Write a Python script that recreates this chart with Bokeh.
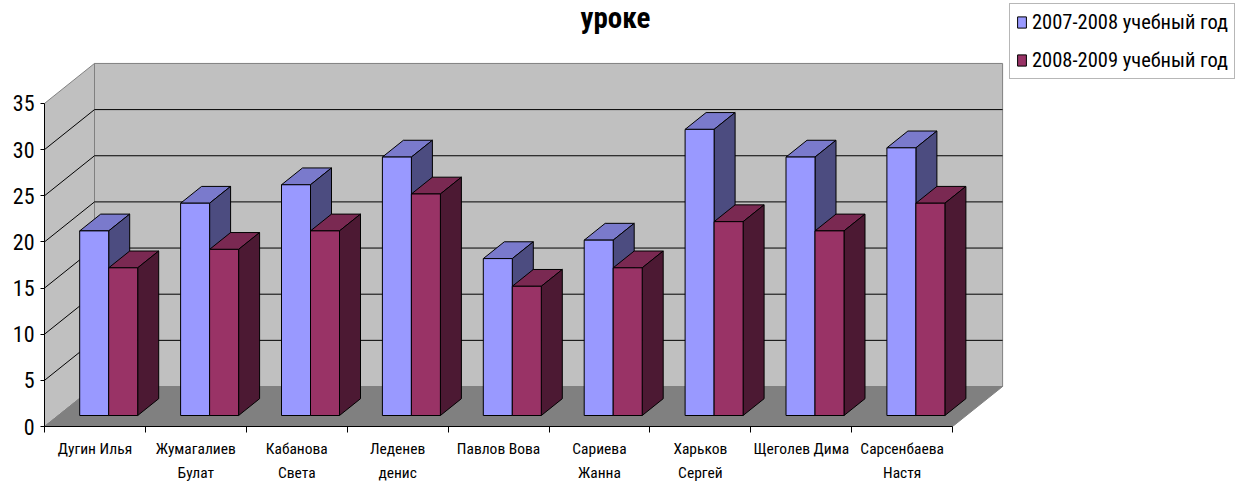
from bokeh.embed import file_html
from bokeh.models import (FixedTicker, Label, Legend, LegendItem,
                          LinearAxis, Range1d)
from bokeh.plotting import figure
from bokeh.resources import INLINE

FONT = "Roboto Condensed"

title_text = "уроке"
names_first = ["Дугин Илья", "Жумагалиев", "Кабанова", "Леденев", "Павлов Вова",
               "Сариева", "Харьков", "Щеголев Дима", "Сарсенбаева"]
names_second = ["", "Булат", "Света", "денис", "", "Жанна", "Сергей", "", "Настя"]
series_a_name = "2007-2008 учебный год"
series_b_name = "2008-2009 учебный год"
series_a = [20, 23, 25, 28, 17, 19, 31, 28, 29]
series_b = [16, 18, 20, 24, 14, 16, 21, 20, 23]
value_ticks = [0, 5, 10, 15, 20, 25, 30, 35]

# Scale of the chart: pixels for one category and for one value unit
PX_CAT = 100.9
PX_VAL = 9.23
LEFT, BOTTOM = 44, 56
WIDTH, HEIGHT = 1241, 482

# Depth of the 3D box expressed in data units
DEPTH_X = 50 / PX_CAT
DEPTH_Y = 40 / PX_VAL
# Bars sit between these fractions of the depth
BAR_NEAR, BAR_FAR = 0.275, 0.695
BAR_W = 29 / PX_CAT

WALL, FLOOR, EDGE = "#C0C0C0", "#808080", "#808080"
A_FRONT, A_TOP, A_SIDE = "#9999FF", "#7A7ACC", "#4C4C80"
B_FRONT, B_TOP, B_SIDE = "#993366", "#7A2952", "#4C1933"

n = len(names_first)
xmax = (WIDTH - LEFT) / PX_CAT
ymax = (HEIGHT - BOTTOM) / PX_VAL

p = figure(width=WIDTH, height=HEIGHT, output_backend="svg", toolbar_location=None,
           x_range=Range1d(0, xmax), y_range=Range1d(0, ymax),
           x_axis_location=None, y_axis_location=None,
           frame_width=WIDTH - LEFT, frame_height=HEIGHT - BOTTOM,
           min_border_left=LEFT, min_border_right=0,
           min_border_top=0, min_border_bottom=0,
           outline_line_color=None, background_fill_color="white")
p.grid.visible = False

top_v = value_ticks[-1]

# Left wall and back wall
p.patch([0, 0, DEPTH_X, DEPTH_X], [0, top_v, top_v + DEPTH_Y, DEPTH_Y],
        fill_color=WALL, line_color=EDGE, line_width=1)
p.patch([DEPTH_X, DEPTH_X, n + DEPTH_X, n + DEPTH_X],
        [DEPTH_Y, top_v + DEPTH_Y, top_v + DEPTH_Y, DEPTH_Y],
        fill_color=WALL, line_color=EDGE, line_width=1)

# Gridlines run along the left wall, then across the back wall
for v in value_ticks[1:-1]:
    p.line([0, DEPTH_X, n + DEPTH_X], [v, v + DEPTH_Y, v + DEPTH_Y],
           line_color="#000000", line_width=1)

# Floor
p.patch([0, n, n + DEPTH_X, DEPTH_X], [0, 0, DEPTH_Y, DEPTH_Y],
        fill_color=FLOOR, line_color=EDGE, line_width=1)


def draw_bars(values, offset, front, top, side):
    """Draw one series as boxes; the two hidden faces are patches behind the front quad."""
    left = [i + 0.5 + offset + BAR_NEAR * DEPTH_X for i in range(n)]
    right = [x + BAR_W for x in left]
    base = BAR_NEAR * DEPTH_Y
    dx = (BAR_FAR - BAR_NEAR) * DEPTH_X
    dy = (BAR_FAR - BAR_NEAR) * DEPTH_Y
    tops = [v + base for v in values]
    p.patches([[l, r, r + dx, l + dx] for l, r in zip(left, right)],
              [[t, t, t + dy, t + dy] for t in tops],
              fill_color=top, line_color="#000000", line_width=1)
    p.patches([[r, r + dx, r + dx, r] for r in right],
              [[base, base + dy, t + dy, t] for t in tops],
              fill_color=side, line_color="#000000", line_width=1)
    return p.quad(left=left, right=right, bottom=base, top=tops,
                  fill_color=front, line_color="#000000", line_width=1)


bars_a = draw_bars(series_a, -BAR_W, A_FRONT, A_TOP, A_SIDE)
bars_b = draw_bars(series_b, 0, B_FRONT, B_TOP, B_SIDE)

# Value axis stops at the top tick
y_axis = LinearAxis(ticker=FixedTicker(ticks=value_ticks), bounds=(0, top_v),
                    axis_line_color="#000000", major_tick_line_color="#000000",
                    major_tick_out=4, major_tick_in=0, minor_tick_out=0, minor_tick_in=0,
                    major_label_standoff=6, major_label_text_font=FONT,
                    major_label_text_font_size="22px", major_label_text_color="#000000")
p.add_layout(y_axis, "left")

# Category axis: ticks between categories, first label line under them
centers = [i + 0.5 for i in range(n)]
x_axis = LinearAxis(ticker=FixedTicker(ticks=centers, minor_ticks=list(range(n + 1))),
                    bounds=(0, n), axis_line_color="#000000",
                    major_tick_line_color=None, minor_tick_line_color="#000000",
                    major_tick_out=0, major_tick_in=0, minor_tick_out=6, minor_tick_in=0,
                    major_label_standoff=7, major_label_text_font=FONT,
                    major_label_text_font_size="15.5px", major_label_text_color="#000000",
                    major_label_overrides={c: t for c, t in zip(centers, names_first)})
p.add_layout(x_axis, "below")

# Second label line
x_axis2 = LinearAxis(ticker=FixedTicker(ticks=centers), axis_line_color=None,
                     major_tick_line_color=None, minor_tick_line_color=None,
                     major_tick_out=0, major_tick_in=0, minor_tick_out=0, minor_tick_in=0,
                     major_label_standoff=3, major_label_text_font=FONT,
                     major_label_text_font_size="15.5px", major_label_text_color="#000000",
                     major_label_overrides={c: t if t else " " for c, t in zip(centers, names_second)})
p.add_layout(x_axis2, "below")

legend = Legend(items=[LegendItem(label=series_a_name, renderers=[bars_a]),
                       LegendItem(label=series_b_name, renderers=[bars_b])],
                location=(965, 347), orientation="vertical",
                border_line_color="#707070", border_line_width=1,
                background_fill_color="white", background_fill_alpha=1,
                padding=6, margin=0, spacing=14, glyph_width=11, glyph_height=14,
                label_standoff=5, label_text_font=FONT, label_text_font_size="20.5px",
                label_text_color="#000000", label_height=22)
p.add_layout(legend, "center")

title = Label(x=571, y=HEIGHT - BOTTOM - 17, x_units="screen", y_units="screen", text=title_text,
              text_align="center", text_baseline="middle", text_font=FONT,
              text_font_style="bold", text_font_size="29px", text_color="#000000")
p.add_layout(title)

open("out.html", "w").write(file_html(p, INLINE))
